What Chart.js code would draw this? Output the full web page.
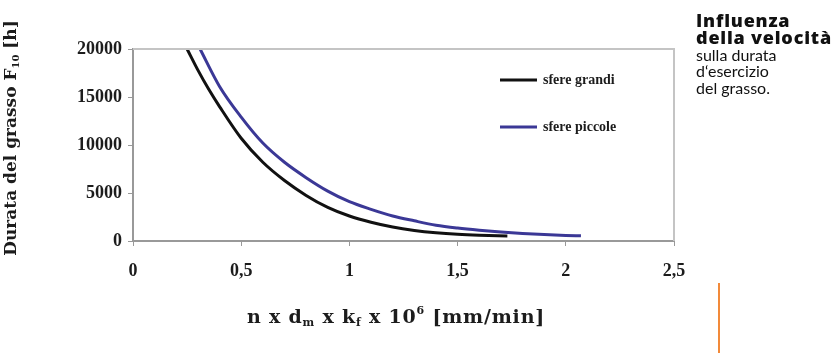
<!DOCTYPE html>
<html>
<head>
<meta charset="utf-8">
<script src="https://cdn.jsdelivr.net/npm/chart.js@4.4.0/dist/chart.umd.min.js"></script>
<style>
    body { margin: 0; background: #fff; }
    #wrap { position: relative; width: 839px; height: 353px; }
    #side {
        position: absolute; left: 696px; top: 12px;
        font-family: Lato, sans-serif; font-size: 16px; line-height: 16.4px; color: #111;
    }
    #side b { font-family: 'Open Sans', sans-serif; font-weight: 800; font-size: 18px; letter-spacing: 0.8px; }
    #mark { position: absolute; left: 718px; top: 283px; width: 2px; height: 70px; background: #f28a3a; }
</style>
</head>
<body>
<div id="wrap">
    <canvas id="chart" width="839" height="353"></canvas>
    <div id="side"><b>Influenza<br>della velocità</b><br>sulla durata<br>d‘esercizio<br>del grasso.</div>
    <div id="mark"></div>
</div>
<script>
const seriesNames = ["sfere grandi", "sfere piccole"];

const grandiX = [0.25, 0.3, 0.35, 0.4, 0.5, 0.6, 0.7, 0.8, 0.9, 1.0, 1.1, 1.2, 1.3, 1.4, 1.5, 1.6, 1.73];
const grandiY = [20000, 17800, 15800, 14000, 10700, 8200, 6300, 4750, 3500, 2600, 1950, 1450, 1100, 860, 700, 600, 520];

const piccoleX = [0.31, 0.4, 0.5, 0.6, 0.7, 0.8, 0.9, 1.0, 1.1, 1.2, 1.3, 1.4, 1.5, 1.6, 1.7, 1.8, 1.9, 2.0, 2.07];
const piccoleY = [20000, 16100, 12900, 10200, 8200, 6600, 5200, 4100, 3300, 2600, 2100, 1650, 1350, 1120, 930, 780, 670, 580, 540];

const xTicks = [0, 0.5, 1, 1.5, 2, 2.5];
const yTicks = [0, 5000, 10000, 15000, 20000];

const serif = "'Liberation Serif', 'DejaVu Serif', serif";
const wideSerif = "'DejaVu Serif', serif";

function toPoints(xs, ys) {
    return xs.map((x, i) => ({ x: x, y: ys[i] }));
}

// draws pieces of text (with sub/superscripts) centred on cx
function drawParts(ctx, parts, cx, base, spacing) {
    ctx.letterSpacing = spacing + "px";
    let w = 0;
    parts.forEach((p) => { ctx.font = "bold " + p[1] + "px " + wideSerif; w += ctx.measureText(p[0]).width; });
    let x = cx - w / 2;
    parts.forEach((p) => {
        ctx.font = "bold " + p[1] + "px " + wideSerif;
        ctx.fillText(p[0], x, base + p[2]);
        x += ctx.measureText(p[0]).width;
    });
    ctx.letterSpacing = "0px";
}

// plot border, axis titles and the small legend inside the plot
const extras = {
    id: "extras",
    afterDraw(chart) {
        const ctx = chart.ctx;
        const area = chart.chartArea;
        ctx.save();

        ctx.strokeStyle = "#c4c4c4";
        ctx.lineWidth = 2;
        ctx.beginPath();
        ctx.moveTo(area.left, area.top);
        ctx.lineTo(area.right, area.top);
        ctx.lineTo(area.right, area.bottom);
        ctx.stroke();

        ctx.fillStyle = "#1c1c1c";
        ctx.textBaseline = "alphabetic";

        drawParts(ctx, [
            ["n x d", 19, 0], ["m", 11, 3], [" x k", 19, 0], ["f", 11, 3],
            [" x 10", 19, 0], ["6", 11, -9], [" [mm/min]", 19, 0],
        ], 396, 323, 0.8);

        ctx.translate(16, 138);
        ctx.rotate(-Math.PI / 2);
        drawParts(ctx, [["Durata del grasso F", 17, 0], ["10", 10, 3], [" [h]", 17, 0]], 0, 0, 0);
        ctx.setTransform(1, 0, 0, 1, 0, 0);

        const rows = [80, 127];
        chart.data.datasets.forEach((ds, i) => {
            ctx.strokeStyle = ds.borderColor;
            ctx.lineWidth = 3;
            ctx.beginPath();
            ctx.moveTo(500, rows[i]);
            ctx.lineTo(537, rows[i]);
            ctx.stroke();
            ctx.fillStyle = "#1c1c1c";
            ctx.font = "bold 14px " + serif;
            ctx.textBaseline = "middle";
            ctx.fillText(ds.label, 543, rows[i]);
        });
        ctx.restore();
    },
};

new Chart(document.getElementById("chart"), {
    type: "scatter",
    data: {
        datasets: [
            {
                label: seriesNames[0],
                data: toPoints(grandiX, grandiY),
                borderColor: "#111111",
                borderWidth: 3,
                showLine: true,
                cubicInterpolationMode: "monotone",
                pointRadius: 0,
            },
            {
                label: seriesNames[1],
                data: toPoints(piccoleX, piccoleY),
                borderColor: "#3b3896",
                borderWidth: 3,
                showLine: true,
                cubicInterpolationMode: "monotone",
                pointRadius: 0,
            },
        ],
    },
    options: {
        responsive: false,
        animation: false,
        layout: { padding: { top: 49, right: 165, left: 0, bottom: 0 } },
        plugins: { legend: { display: false }, tooltip: { enabled: false } },
        scales: {
            x: {
                type: "linear",
                min: 0,
                max: 2.5,
                afterBuildTicks: (s) => { s.ticks = xTicks.map((v) => ({ value: v })); },
                afterFit: (s) => { s.height = 112; },
                border: { color: "#999", width: 2 },
                grid: { display: true, drawOnChartArea: false, drawTicks: true, tickLength: 5, color: "#999" },
                ticks: {
                    padding: 15,
                    color: "#1c1c1c",
                    font: { family: serif, size: 18, weight: "bold" },
                    callback: (v) => String(v).replace(".", ","),
                },
            },
            y: {
                min: 0,
                max: 20000,
                afterBuildTicks: (s) => { s.ticks = yTicks.map((v) => ({ value: v })); },
                afterFit: (s) => { s.width = 133; },
                border: { color: "#999", width: 2 },
                grid: { display: true, drawOnChartArea: false, drawTicks: true, tickLength: 5, color: "#999" },
                ticks: {
                    padding: 6,
                    color: "#1c1c1c",
                    font: { family: serif, size: 18, weight: "bold" },
                    callback: (v) => String(v),
                },
            },
        },
    },
    plugins: [extras],
});
</script>
</body>
</html>
